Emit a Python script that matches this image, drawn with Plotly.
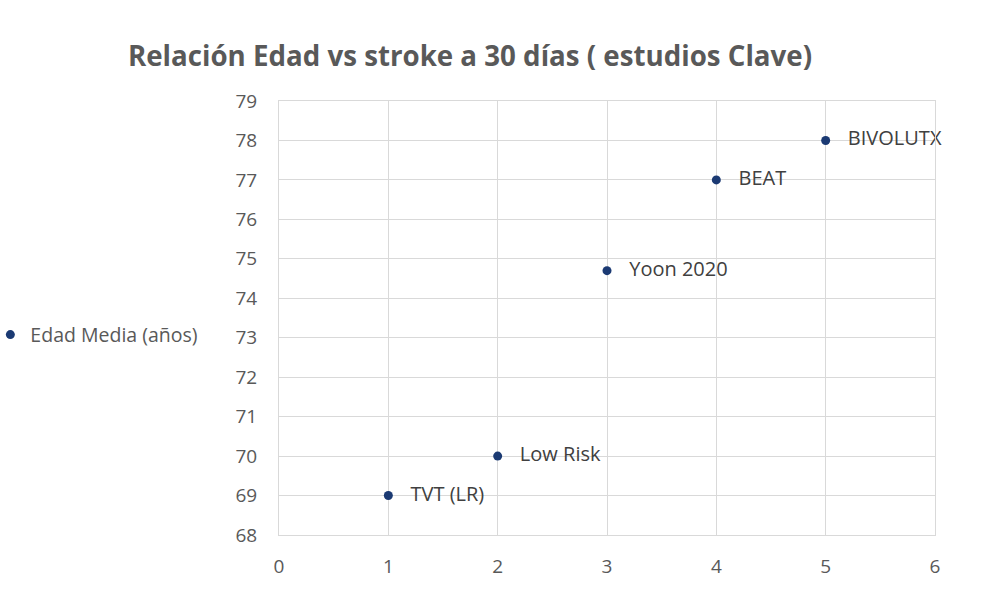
import plotly.graph_objects as go

studies = ["TVT (LR)", "Low Risk", "Yoon 2020", "BEAT", "BIVOLUTX"]
x_vals = [1, 2, 3, 4, 5]
edad_media = [69, 70, 74.7, 77, 78]

fig = go.Figure()
fig.add_trace(go.Scatter(
    x=x_vals, y=edad_media, mode="markers+text",
    name="Edad Media (años)",
    text=["   " + s for s in studies], textposition="middle right",
    textfont=dict(family="Open Sans", size=20, color="#404040"),
    marker=dict(color="#1b3a73", size=9),
    cliponaxis=False,
))

fig.update_layout(
    width=1000, height=607,
    paper_bgcolor="white", plot_bgcolor="white",
    margin=dict(l=279, r=65, t=101, b=72, autoexpand=False),
    title=dict(text="<b>Relación Edad vs stroke a 30 días ( estudios Clave)</b>",
               x=0.47, xanchor="center", y=0.907, yanchor="middle",
               font=dict(family="Open Sans", size=27.7, color="#595959")),
    showlegend=True,
    legend=dict(x=-0.440, xanchor="left", y=0.461, yanchor="middle",
                font=dict(family="Open Sans", size=19.5, color="#595959"),
                itemwidth=30, bgcolor="rgba(0,0,0,0)"),
    xaxis=dict(range=[0, 6], dtick=1, showgrid=True, gridcolor="#d9d9d9",
               zeroline=False, showline=True, linecolor="#d9d9d9", mirror=True,
               ticks="", ticklabelstandoff=14,
               tickfont=dict(family="Open Sans", size=19, color="#595959")),
    yaxis=dict(range=[68, 79], dtick=1, showgrid=True, gridcolor="#d9d9d9",
               zeroline=False, showline=True, linecolor="#d9d9d9", mirror=True,
               ticks="", ticklabelstandoff=17,
               tickfont=dict(family="Open Sans", size=19, color="#595959")),
)

fig.write_html("out.html")
